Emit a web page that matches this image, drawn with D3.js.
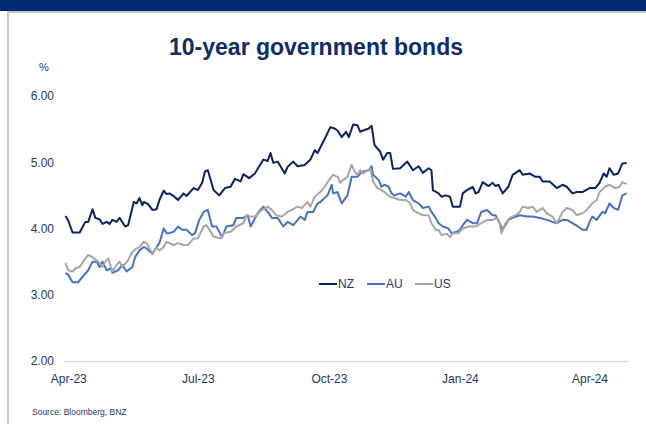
<!DOCTYPE html>
<html>
<head>
<meta charset="utf-8">
<script src="https://cdn.jsdelivr.net/npm/d3@7"></script>
<style>
  body { margin: 0; background: #fff; }
  svg { display: block; font-family: Arial, "Liberation Sans", sans-serif; }
</style>
</head>
<body>
<svg id="chart" width="646" height="424"></svg>
<script>
// 10-year government bond yields, %
const seriesNames = ["NZ", "AU", "US"];
const tickDates = ["2023-04-01", "2023-07-01", "2023-10-01", "2024-01-01", "2024-04-01"];
const yTicks = [2, 3, 4, 5, 6];

const nzDates = ["2023-03-30","2023-04-01","2023-04-04","2023-04-09","2023-04-13","2023-04-15","2023-04-18","2023-04-20","2023-04-23","2023-04-25","2023-04-28","2023-04-30","2023-05-02","2023-05-05","2023-05-07","2023-05-11","2023-05-13","2023-05-17","2023-05-19","2023-05-21","2023-05-23","2023-05-24","2023-05-27","2023-05-30","2023-06-02","2023-06-04","2023-06-07","2023-06-09","2023-06-11","2023-06-14","2023-06-17","2023-06-21","2023-06-23","2023-06-28","2023-07-01","2023-07-04","2023-07-06","2023-07-08","2023-07-12","2023-07-16","2023-07-20","2023-07-24","2023-07-27","2023-07-31","2023-08-02","2023-08-06","2023-08-10","2023-08-16","2023-08-19","2023-08-21","2023-08-23","2023-08-26","2023-08-31","2023-09-02","2023-09-06","2023-09-09","2023-09-14","2023-09-18","2023-09-21","2023-09-23","2023-09-28","2023-10-02","2023-10-05","2023-10-07","2023-10-10","2023-10-13","2023-10-15","2023-10-18","2023-10-21","2023-10-23","2023-10-25","2023-10-29","2023-10-31","2023-11-02","2023-11-06","2023-11-08","2023-11-11","2023-11-13","2023-11-15","2023-11-20","2023-11-25","2023-11-29","2023-12-03","2023-12-06","2023-12-10","2023-12-12","2023-12-13","2023-12-17","2023-12-19","2023-12-22","2023-12-25","2023-12-27","2024-01-01","2024-01-03","2024-01-06","2024-01-10","2024-01-12","2024-01-14","2024-01-17","2024-01-21","2024-01-24","2024-01-26","2024-01-28","2024-01-31","2024-02-04","2024-02-07","2024-02-12","2024-02-14","2024-02-19","2024-02-23","2024-02-26","2024-02-28","2024-03-04","2024-03-09","2024-03-13","2024-03-16","2024-03-20","2024-03-23","2024-03-27","2024-04-01","2024-04-05","2024-04-08","2024-04-11","2024-04-13","2024-04-15","2024-04-18","2024-04-21","2024-04-24","2024-04-27"];
const nzValues = [4.19,4.12,3.94,3.94,4.10,4.10,4.29,4.16,4.14,4.07,4.10,4.07,4.13,4.10,4.16,4.03,4.05,4.40,4.38,4.46,4.35,4.40,4.37,4.28,4.29,4.43,4.57,4.52,4.53,4.49,4.43,4.53,4.49,4.61,4.58,4.69,4.86,4.88,4.58,4.50,4.61,4.63,4.75,4.71,4.82,4.76,4.83,5.04,5.02,5.14,4.99,5.01,4.83,4.93,5.01,4.94,4.96,5.04,5.18,5.14,5.35,5.53,5.51,5.48,5.38,5.46,5.38,5.57,5.56,5.46,5.48,5.51,5.55,5.26,5.16,5.04,5.14,5.14,4.90,4.91,5.01,4.88,4.94,4.84,4.91,4.88,4.58,4.53,4.48,4.50,4.48,4.33,4.33,4.53,4.58,4.63,4.53,4.55,4.70,4.64,4.69,4.64,4.66,4.53,4.63,4.81,4.88,4.81,4.83,4.78,4.78,4.71,4.71,4.61,4.66,4.63,4.53,4.55,4.55,4.61,4.61,4.69,4.83,4.78,4.91,4.81,4.83,4.98,4.99];

const auDates = ["2023-03-30","2023-04-01","2023-04-04","2023-04-08","2023-04-11","2023-04-15","2023-04-18","2023-04-21","2023-04-23","2023-04-25","2023-04-28","2023-05-01","2023-05-02","2023-05-06","2023-05-09","2023-05-12","2023-05-16","2023-05-18","2023-05-21","2023-05-24","2023-05-26","2023-05-30","2023-06-02","2023-06-04","2023-06-07","2023-06-09","2023-06-11","2023-06-14","2023-06-17","2023-06-20","2023-06-23","2023-06-27","2023-06-29","2023-07-02","2023-07-05","2023-07-08","2023-07-11","2023-07-14","2023-07-18","2023-07-21","2023-07-26","2023-07-28","2023-08-02","2023-08-05","2023-08-07","2023-08-12","2023-08-16","2023-08-19","2023-08-22","2023-08-26","2023-08-30","2023-09-02","2023-09-06","2023-09-11","2023-09-14","2023-09-16","2023-09-20","2023-09-23","2023-09-25","2023-09-30","2023-10-03","2023-10-04","2023-10-07","2023-10-10","2023-10-14","2023-10-17","2023-10-21","2023-10-23","2023-10-25","2023-10-29","2023-10-31","2023-11-01","2023-11-05","2023-11-07","2023-11-09","2023-11-12","2023-11-14","2023-11-16","2023-11-20","2023-11-24","2023-11-26","2023-11-29","2023-12-03","2023-12-06","2023-12-10","2023-12-12","2023-12-15","2023-12-17","2023-12-20","2023-12-24","2023-12-26","2023-12-30","2024-01-01","2024-01-03","2024-01-06","2024-01-10","2024-01-13","2024-01-16","2024-01-20","2024-01-24","2024-01-26","2024-01-29","2024-01-31","2024-02-04","2024-02-07","2024-02-12","2024-02-17","2024-02-21","2024-02-26","2024-03-02","2024-03-06","2024-03-09","2024-03-13","2024-03-16","2024-03-20","2024-03-24","2024-03-27","2024-03-30","2024-04-01","2024-04-03","2024-04-06","2024-04-10","2024-04-12","2024-04-15","2024-04-18","2024-04-21","2024-04-24","2024-04-27"];
const auValues = [3.33,3.30,3.19,3.19,3.27,3.37,3.50,3.50,3.42,3.50,3.37,3.40,3.33,3.37,3.45,3.35,3.42,3.57,3.67,3.72,3.70,3.62,3.72,3.78,4.00,3.93,3.93,3.95,4.03,3.98,3.98,3.90,3.93,4.13,4.25,4.28,4.03,4.03,3.87,4.03,4.05,4.16,4.16,4.20,4.03,4.23,4.33,4.25,4.16,4.16,4.03,4.10,4.05,4.18,4.13,4.25,4.25,4.38,4.40,4.50,4.66,4.53,4.55,4.38,4.50,4.78,4.78,4.83,4.86,4.88,4.94,4.81,4.73,4.63,4.66,4.63,4.53,4.50,4.53,4.48,4.55,4.43,4.38,4.31,4.33,4.25,4.16,4.08,4.03,4.00,3.93,3.95,3.98,4.05,4.13,4.08,4.08,4.25,4.28,4.20,4.20,4.08,3.98,4.13,4.16,4.20,4.18,4.18,4.16,4.13,4.10,4.08,4.13,4.13,4.08,4.03,3.98,3.98,4.10,4.18,4.13,4.25,4.23,4.38,4.31,4.28,4.50,4.53];

const usDates = ["2023-03-30","2023-04-01","2023-04-04","2023-04-06","2023-04-09","2023-04-13","2023-04-15","2023-04-18","2023-04-22","2023-04-25","2023-04-27","2023-04-29","2023-05-02","2023-05-04","2023-05-07","2023-05-09","2023-05-13","2023-05-16","2023-05-19","2023-05-21","2023-05-24","2023-05-26","2023-05-30","2023-06-02","2023-06-04","2023-06-07","2023-06-09","2023-06-11","2023-06-14","2023-06-17","2023-06-21","2023-06-24","2023-06-28","2023-07-01","2023-07-05","2023-07-07","2023-07-10","2023-07-12","2023-07-17","2023-07-19","2023-07-24","2023-07-28","2023-08-02","2023-08-04","2023-08-07","2023-08-10","2023-08-15","2023-08-19","2023-08-22","2023-08-25","2023-08-29","2023-09-02","2023-09-05","2023-09-09","2023-09-12","2023-09-16","2023-09-18","2023-09-21","2023-09-25","2023-09-28","2023-10-02","2023-10-04","2023-10-07","2023-10-09","2023-10-11","2023-10-14","2023-10-17","2023-10-19","2023-10-21","2023-10-23","2023-10-25","2023-10-28","2023-10-30","2023-11-01","2023-11-04","2023-11-07","2023-11-09","2023-11-13","2023-11-16","2023-11-20","2023-11-24","2023-11-27","2023-11-29","2023-12-03","2023-12-06","2023-12-10","2023-12-12","2023-12-15","2023-12-17","2023-12-19","2023-12-23","2023-12-25","2023-12-27","2023-12-31","2024-01-03","2024-01-07","2024-01-12","2024-01-16","2024-01-20","2024-01-24","2024-01-27","2024-01-29","2024-01-30","2024-02-02","2024-02-05","2024-02-09","2024-02-12","2024-02-14","2024-02-18","2024-02-21","2024-02-24","2024-02-28","2024-03-02","2024-03-06","2024-03-09","2024-03-13","2024-03-16","2024-03-20","2024-03-23","2024-03-27","2024-03-30","2024-04-03","2024-04-06","2024-04-08","2024-04-12","2024-04-15","2024-04-19","2024-04-22","2024-04-24","2024-04-27"];
const usValues = [3.48,3.37,3.35,3.40,3.42,3.55,3.60,3.57,3.50,3.42,3.50,3.55,3.35,3.42,3.50,3.42,3.52,3.65,3.70,3.72,3.80,3.78,3.62,3.72,3.67,3.72,3.80,3.78,3.75,3.78,3.75,3.75,3.85,3.85,4.03,4.05,3.95,3.88,3.85,3.93,3.95,4.03,4.08,4.20,4.18,4.18,4.28,4.33,4.28,4.20,4.18,4.25,4.28,4.33,4.31,4.40,4.33,4.48,4.55,4.63,4.76,4.81,4.78,4.69,4.73,4.78,4.96,4.86,4.81,4.88,4.83,4.88,4.91,4.71,4.61,4.58,4.55,4.48,4.46,4.43,4.43,4.38,4.28,4.23,4.20,4.20,4.08,3.98,3.98,3.90,3.92,3.87,3.93,3.93,4.00,4.03,4.03,4.08,4.13,4.13,4.16,4.08,3.93,4.08,4.16,4.20,4.25,4.33,4.31,4.33,4.25,4.31,4.23,4.18,4.08,4.25,4.31,4.28,4.20,4.23,4.28,4.38,4.43,4.55,4.63,4.66,4.61,4.63,4.70,4.67];

const seriesColors = { NZ: "#0b2264", AU: "#4472c4", US: "#a6a6a6" };
const textColor = "#1f3864";

const parse = d3.timeParse("%Y-%m-%d");
const series = [
  { name: "NZ", dates: nzDates, values: nzValues },
  { name: "AU", dates: auDates, values: auValues },
  { name: "US", dates: usDates, values: usValues }
].map(s => ({ name: s.name, points: s.dates.map((d, i) => ({ date: parse(d), value: s.values[i] })) }));

const svg = d3.select("#chart");
const W = 646, H = 424;

// page header band and panel frame
svg.append("rect").attr("x", 0).attr("y", 0).attr("width", W).attr("height", 11).attr("fill", "#002b72");
svg.append("rect").attr("x", 8).attr("y", 12).attr("width", W).attr("height", H)
  .attr("fill", "none").attr("stroke", "#c6c6c6").attr("stroke-width", 2);

// title
svg.append("text").attr("x", 316).attr("y", 55).attr("text-anchor", "middle")
  .attr("font-size", 23).attr("font-weight", "bold").attr("fill", "#0f2c66")
  .text("10-year government bonds");

const x = d3.scaleTime().domain([parse("2023-03-29"), parse("2024-04-28")]).range([64, 628]);
const y = d3.scaleLinear().domain([2, 6]).range([361, 96]);

// y axis (labels only)
const yAxis = svg.append("g").attr("transform", "translate(64,0)")
  .call(d3.axisLeft(y).tickValues(yTicks).tickFormat(d3.format(".2f")).tickSize(0).tickPadding(10));
yAxis.select(".domain").remove();
yAxis.selectAll("text").attr("font-size", 12).attr("fill", textColor).attr("font-family", "Arial, 'Liberation Sans', sans-serif");

svg.append("text").attr("x", 44).attr("y", 71).attr("text-anchor", "middle")
  .attr("font-size", 11).attr("fill", textColor).text("%");

// x axis
const xAxis = svg.append("g").attr("transform", "translate(0,361)")
  .call(d3.axisBottom(x).tickValues(tickDates.map(parse)).tickFormat(d3.timeFormat("%b-%y")).tickSize(0).tickPadding(13));
xAxis.select(".domain").attr("stroke", "#d9d9d9").attr("stroke-width", 1.5);
xAxis.selectAll("text").attr("font-size", 12).attr("fill", textColor).attr("font-family", "Arial, 'Liberation Sans', sans-serif");

// series lines
const line = d3.line().x(d => x(d.date)).y(d => y(d.value));
svg.append("g").selectAll("path").data(series).join("path")
  .attr("d", d => line(d.points))
  .attr("fill", "none")
  .attr("stroke", d => seriesColors[d.name])
  .attr("stroke-width", 2)
  .attr("stroke-linejoin", "round");

// legend
const legendX = [319, 367, 415];
const legend = svg.append("g").attr("transform", "translate(0,284)");
seriesNames.forEach((n, i) => {
  legend.append("line").attr("x1", legendX[i]).attr("x2", legendX[i] + 18).attr("y1", 0).attr("y2", 0)
    .attr("stroke", seriesColors[n]).attr("stroke-width", 2);
  legend.append("text").attr("x", legendX[i] + 19).attr("y", 4.3).attr("font-size", 12)
    .attr("fill", textColor).text(n);
});

// source note
svg.append("text").attr("x", 32).attr("y", 415).attr("font-size", 8.5).attr("fill", textColor)
  .text("Source: Bloomberg, BNZ");
</script>
</body>
</html>
